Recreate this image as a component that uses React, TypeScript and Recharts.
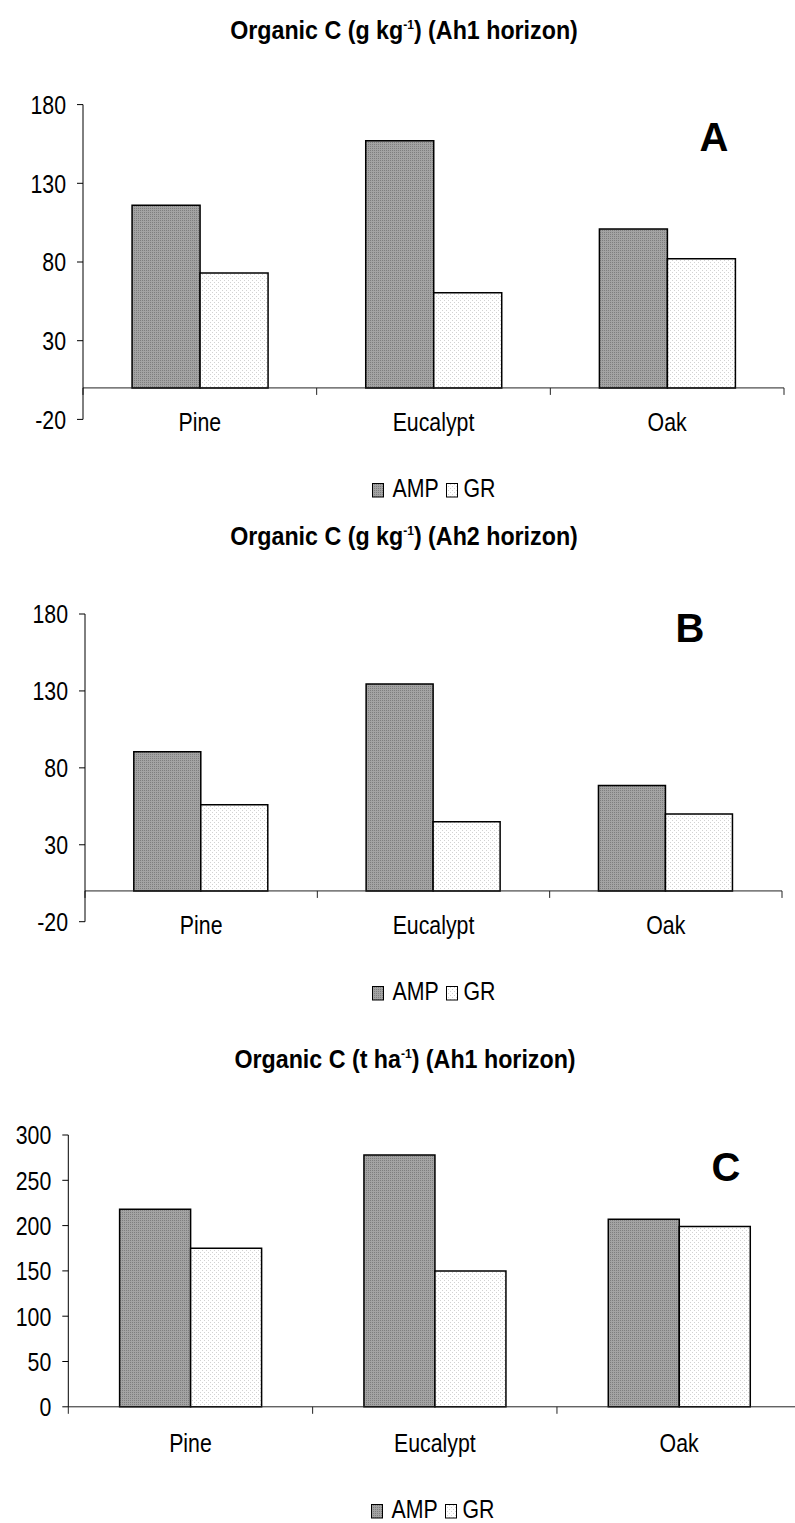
import React from 'react';
import { BarChart, Bar, XAxis, YAxis, ReferenceLine, Legend } from 'recharts';

// Forest stands and treatments
const categories = ['Pine', 'Eucalypt', 'Oak'];

// Organic C, g kg-1, Ah1 horizon
const ampAh1 = [116, 157, 101];
const grAh1 = [73, 60.5, 82];

// Organic C, g kg-1, Ah2 horizon
const ampAh2 = [90.5, 134.5, 68.5];
const grAh2 = [56, 45, 50];

// Organic C stock, t ha-1, Ah1 horizon
const ampStock = [218, 278, 207];
const grStock = [175, 150, 199];

const ticksConc = [-20, 30, 80, 130, 180];
const ticksStock = [0, 50, 100, 150, 200, 250, 300];

const FONT = '"Liberation Sans", Arial, Helvetica, sans-serif';
const NARROW = 0.82;

const buildRows = (amp: number[], gr: number[]) =>
  categories.map((name, i) => ({ name, AMP: amp[i], GR: gr[i] }));

const YTick = (props: any) => {
  const { x, y, payload } = props;
  return (
    <text
      transform={`translate(${x},${y + 9.3}) scale(${NARROW},1)`}
      textAnchor="end"
      fontSize={26}
      fontFamily={FONT}
      fill="#000"
    >
      {payload.value}
    </text>
  );
};

const makeXTick = (baselineOffset: number) => (props: any) => {
  const { x, y, payload } = props;
  return (
    <text
      transform={`translate(${x},${y + baselineOffset}) scale(${NARROW},1)`}
      textAnchor="middle"
      fontSize={26}
      fontFamily={FONT}
      fill="#000"
    >
      {payload.value}
    </text>
  );
};

// Horizontal axis drawn at value zero, with tick marks between categories
const makeZeroAxis = (count: number) => (props: any) => {
  const { x1, x2, y1 } = props;
  const step = (x2 - x1) / count;
  return (
    <g>
      <line x1={x1} y1={y1} x2={x2} y2={y1} stroke="#222" strokeWidth={1} />
      {Array.from({ length: count + 1 }, (_, i) => (
        <line
          key={i}
          x1={x1 + i * step}
          x2={x1 + i * step}
          y1={y1}
          y2={y1 + 7}
          stroke="#222"
          strokeWidth={1}
        />
      ))}
    </g>
  );
};

const legendSlots = [
  { sq: 0.5, tx: 20.5 },
  { sq: 74.5, tx: 91.5 },
];

const LegendBox = (props: any) => {
  const items = props.payload || [];
  return (
    <svg width={140} height={24} style={{ display: 'block', overflow: 'visible' }}>
      {items.map((it: any, i: number) => (
        <g key={it.value}>
          <rect
            x={legendSlots[i].sq}
            y={5.5}
            width={11}
            height={13.5}
            fill={it.color}
            stroke="#000"
            strokeWidth={1}
          />
          <text
            transform={`translate(${legendSlots[i].tx},19) scale(${NARROW},1)`}
            fontSize={26}
            fontFamily={FONT}
            fill="#000"
          >
            {it.value}
          </text>
        </g>
      ))}
    </svg>
  );
};

const Patterns = ({ id }: { id: string }) => (
  <defs>
    <pattern id={`amp-${id}`} width={2} height={2} patternUnits="userSpaceOnUse">
      <rect width={2} height={2} fill="#a3a3a3" />
      <rect x={0} y={0} width={1} height={1} fill="#7e7e7e" />
    </pattern>
    <pattern id={`gr-${id}`} width={4} height={4} patternUnits="userSpaceOnUse">
      <rect width={4} height={4} fill="#ffffff" />
      <rect x={0} y={0} width={1} height={1} fill="#d2d2d2" />
      <rect x={2} y={2} width={1} height={1} fill="#d2d2d2" />
    </pattern>
  </defs>
);

type PanelProps = {
  id: string;
  rows: { name: string; AMP: number; GR: number }[];
  ticks: number[];
  width: number;
  height: number;
  margin: { top: number; right: number; bottom: number; left: number };
  yWidth: number;
  labelOffset: number;
  legendPos: { left: number; top: number };
};

const Panel = ({ id, rows, ticks, width, height, margin, yWidth, labelOffset, legendPos }: PanelProps) => (
  <BarChart
    width={width}
    height={height}
    data={rows}
    margin={margin}
    barCategoryGap="21%"
    barGap={0}
  >
    <Patterns id={id} />
    <XAxis
      dataKey="name"
      axisLine={false}
      tickLine={false}
      tickSize={0}
      tickMargin={0}
      height={1}
      interval={0}
      tick={makeXTick(labelOffset)}
    />
    <YAxis
      type="number"
      domain={[ticks[0], ticks[ticks.length - 1]]}
      ticks={ticks}
      interval={0}
      width={yWidth}
      axisLine={{ stroke: '#000', strokeWidth: 1 }}
      tickLine={{ stroke: '#000', strokeWidth: 1 }}
      tickSize={6}
      tickMargin={11}
      tick={YTick}
    />
    <Bar
      dataKey="AMP"
      name="AMP"
      fill={`url(#amp-${id})`}
      stroke="#000"
      strokeWidth={1.5}
      isAnimationActive={false}
    />
    <Bar
      dataKey="GR"
      name="GR"
      fill={`url(#gr-${id})`}
      stroke="#000"
      strokeWidth={1.5}
      isAnimationActive={false}
    />
    <ReferenceLine y={0} shape={makeZeroAxis(rows.length)} />
    <Legend
      layout="horizontal"
      align="center"
      verticalAlign="middle"
      content={LegendBox}
      wrapperStyle={{ left: legendPos.left, top: legendPos.top, width: 140, height: 24 }}
    />
  </BarChart>
);

const Title = ({ x, y, lead, tail }: { x: number; y: number; lead: string; tail: string }) => (
  <text
    transform={`translate(${x},${y}) scale(0.93,1)`}
    textAnchor="middle"
    fontSize={25}
    fontWeight="bold"
    fontFamily={FONT}
    fill="#000"
  >
    {lead}
    <tspan fontSize={13} dy={-10}>-1</tspan>
    <tspan dy={10}>{tail}</tspan>
  </text>
);

const PanelLetter = ({ x, y, label }: { x: number; y: number; label: string }) => (
  <text
    x={x}
    y={y}
    textAnchor="middle"
    fontSize={40}
    fontWeight="bold"
    fontFamily={FONT}
    fill="#000"
  >
    {label}
  </text>
);

export default function App() {
  return (
    <div
      style={{
        position: 'absolute',
        left: 0,
        top: 0,
        width: 795,
        height: 1523,
        overflow: 'hidden',
        background: '#fff',
      }}
    >
      <div style={{ position: 'absolute', left: 0, top: 0 }}>
        <Panel
          id="a"
          rows={buildRows(ampAh1, grAh1)}
          ticks={ticksConc}
          width={795}
          height={500}
          margin={{ top: 104.6, right: 11, bottom: 79.6, left: 0 }}
          yWidth={83}
          labelOffset={11.6}
          legendPos={{ left: 372, top: 478 }}
        />
      </div>
      <div style={{ position: 'absolute', left: 0, top: 500 }}>
        <Panel
          id="b"
          rows={buildRows(ampAh2, grAh2)}
          ticks={ticksConc}
          width={795}
          height={510}
          margin={{ top: 114, right: 13, bottom: 87.3, left: 0 }}
          yWidth={85}
          labelOffset={12.3}
          legendPos={{ left: 372, top: 481 }}
        />
      </div>
      <div style={{ position: 'absolute', left: 0, top: 1000 }}>
        <Panel
          id="c"
          rows={buildRows(ampStock, grStock)}
          ticks={ticksStock}
          width={810}
          height={523}
          margin={{ top: 135, right: 8.7, bottom: 115.2, left: 0 }}
          yWidth={68.3}
          labelOffset={45.2}
          legendPos={{ left: 371, top: 499 }}
        />
      </div>
      <svg
        width={795}
        height={1523}
        style={{ position: 'absolute', left: 0, top: 0, pointerEvents: 'none' }}
      >
        <Title x={404} y={38.5} lead="Organic C (g kg" tail=") (Ah1 horizon)" />
        <Title x={404} y={545} lead="Organic C (g kg" tail=") (Ah2 horizon)" />
        <Title x={405} y={1068} lead="Organic C (t ha" tail=") (Ah1 horizon)" />
        <PanelLetter x={714} y={151} label="A" />
        <PanelLetter x={690} y={641.5} label="B" />
        <PanelLetter x={726} y={1181} label="C" />
      </svg>
    </div>
  );
}
